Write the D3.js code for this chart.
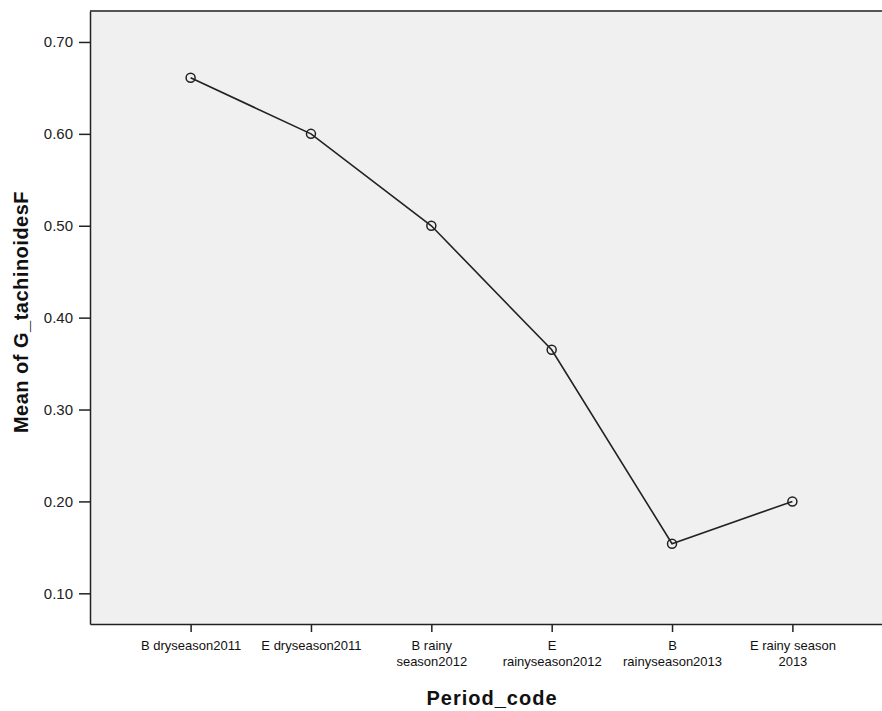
<!DOCTYPE html>
<html><head><meta charset="utf-8">
<script src="https://cdn.jsdelivr.net/npm/d3@7"></script>
<style>body{margin:0;background:#fff}svg{display:block}</style>
</head><body>
<svg id="c" width="882" height="711"></svg>
<script>
const categories = ["B dryseason2011","E dryseason2011","B rainy season2012","E rainyseason2012","B rainyseason2013","E rainy season 2013"];
const tickLines = [["B dryseason2011"],["E dryseason2011"],["B rainy","season2012"],["E","rainyseason2012"],["B","rainyseason2013"],["E rainy  season","2013"]];
const values = [0.661, 0.600, 0.500, 0.365, 0.154, 0.200];
const yTicks = [0.10,0.20,0.30,0.40,0.50,0.60,0.70];

const svg = d3.select("#c");
const font = "Liberation Sans, Arial, sans-serif";
const L = 90, T = 11, R = 893, B = 624;
const x = d3.scalePoint().domain(categories).range([L, R]).padding(0.836);
const y = d3.scaleLinear().domain([0.0666, 0.7337]).range([B, T]);

svg.append("rect").attr("x", L).attr("y", T).attr("width", R - L).attr("height", B - T).attr("fill", "#f0f0f0");
svg.append("line").attr("x1", L).attr("x2", R).attr("y1", T).attr("y2", T).attr("stroke", "#555").attr("stroke-width", 2);

const yAxis = svg.append("g").attr("transform", `translate(${L},0)`)
  .call(d3.axisLeft(y).tickValues(yTicks).tickFormat(d3.format(".2f")).tickSize(11).tickSizeOuter(0));
yAxis.select(".domain").attr("stroke", "#222").attr("stroke-width", 1.5);
yAxis.selectAll(".tick line").attr("stroke", "#222").attr("stroke-width", 1.5);
yAxis.selectAll(".tick text").attr("font-family", font).attr("font-size", 15).attr("fill", "#222").attr("x", -17);

const xAxis = svg.append("g").attr("transform", `translate(0,${B})`)
  .call(d3.axisBottom(x).tickSize(8).tickSizeOuter(0));
xAxis.select(".domain").attr("stroke", "#222").attr("stroke-width", 1.5);
xAxis.selectAll(".tick line").attr("stroke", "#222").attr("stroke-width", 1.5);
xAxis.selectAll(".tick text").remove();
xAxis.selectAll(".tick").each(function(d, i) {
  const t = d3.select(this).append("text").attr("fill", "#111")
    .attr("font-family", font).attr("font-size", 13)
    .attr("text-anchor", "middle").attr("y", 26);
  tickLines[i].forEach((ln, j) => t.append("tspan").attr("x", 0).attr("dy", j === 0 ? 0 : 15.5).text(ln));
});

const line = d3.line().x((d, i) => x(categories[i])).y(d => y(d));
svg.append("path").datum(values).attr("d", line).attr("fill", "none").attr("stroke", "#222").attr("stroke-width", 1.6);
svg.selectAll("circle.pt").data(values).enter().append("circle").attr("class", "pt")
  .attr("cx", (d, i) => x(categories[i])).attr("cy", d => y(d)).attr("r", 4.5)
  .attr("fill", "none").attr("stroke", "#222").attr("stroke-width", 1.5);

svg.append("text").attr("x", 492).attr("y", 705).attr("text-anchor", "middle")
  .attr("font-family", font).attr("font-weight", "bold").attr("font-size", 20).attr("letter-spacing", 1).attr("fill", "#111")
  .text("Period_code");
svg.append("text").attr("transform", "translate(28,312) rotate(-90)").attr("text-anchor", "middle")
  .attr("font-family", font).attr("font-weight", "bold").attr("font-size", 20).attr("letter-spacing", 0.5).attr("fill", "#111")
  .text("Mean of G_tachinoidesF");
</script>
</body></html>
